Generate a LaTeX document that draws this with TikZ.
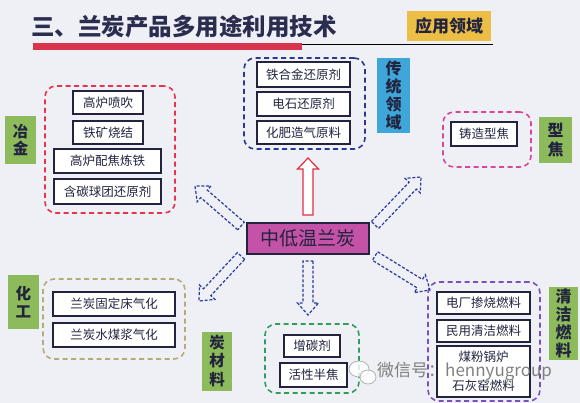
\documentclass[tikz,border=0pt]{standalone}
\usepackage{fontspec}
\setmainfont{Noto Sans CJK SC}
\usetikzlibrary{calc}
\definecolor{bg}{HTML}{EFF0F5}
\definecolor{txt}{HTML}{22243F}
\definecolor{ttl}{HTML}{2B2D4F}
\definecolor{redbar}{HTML}{D9344E}
\definecolor{thin}{HTML}{F0A090}
\definecolor{gold}{HTML}{EDBE45}
\definecolor{lgreen}{HTML}{8DBA5A}
\definecolor{lblue}{HTML}{3FA6DA}
\definecolor{ctr}{HTML}{C452A6}
\definecolor{gred}{HTML}{E5344E}
\definecolor{gblue}{HTML}{2B3990}
\definecolor{gpink}{HTML}{D9479A}
\definecolor{gtan}{HTML}{B5AA7A}
\definecolor{ggreen}{HTML}{2E9E5B}
\definecolor{gpurple}{HTML}{7B4FBF}
\definecolor{arblue}{HTML}{2B3A9C}
\definecolor{arred}{HTML}{E03040}
\newcommand\harrow[5]{% style, base, tip, headbase name, head length
  \coordinate (#4) at ($(#3)!#5!(#2)$);
  \draw[#1] ($(#2)!5pt!90:(#3)$) -- ($(#4)!5pt!90:(#3)$) -- ($(#4)!10.5pt!90:(#3)$)
    -- (#3) -- ($(#4)!10.5pt!-90:(#3)$) -- ($(#4)!5pt!-90:(#3)$) -- ($(#2)!5pt!-90:(#3)$) -- cycle;}
\tikzset{
  item/.style={draw=txt, line width=1.6pt, fill=white, text=txt, inner sep=0pt,
    font=\fontsize{12.5}{14}\selectfont},
  grp/.style={dash pattern=on 5pt off 3.5pt, line width=1.6pt, rounded corners=11pt, inner sep=0pt},
  side/.style={text=txt, inner sep=0pt, align=center, font=\fontsize{15.5}{17.5}\selectfont\bfseries},
  darr/.style={draw=arblue, line width=1.2pt, dash pattern=on 3pt off 1.8pt},
  rarr/.style={draw=arred, line width=1.2pt, fill=white},
}
\begin{document}
\begin{tikzpicture}[x=1pt,y=-1pt]
\fill[bg] (0,0) rectangle (580,403);
\useasboundingbox (0,0) rectangle (580,403);
% title
\node[anchor=west, inner sep=0pt, text=ttl, font=\fontsize{23.5}{26}\selectfont\bfseries] (title) at (31,27) {三、兰炭产品多用途利用技术};
\fill[redbar] (33,43) rectangle (302,50);
\draw[thin, line width=0.8pt] (302,44) -- (493,44);
\node[fill=gold, text=txt, inner sep=0pt, minimum width=84pt, minimum height=30pt, font=\fontsize{17}{19}\selectfont\bfseries] (field) at (449,26) {应用领域};

% groups
\node[grp, draw=gred, minimum width=130pt, minimum height=127pt] (g1) at (110,149.5) {};
\node[grp, draw=gblue, minimum width=121pt, minimum height=91pt] (g2) at (304.5,103.5) {};
\node[grp, draw=gpink, minimum width=88pt, minimum height=55pt] (g3) at (487,139.5) {};
\node[grp, draw=gtan, minimum width=142pt, minimum height=80pt] (g4) at (114,319) {};
\node[grp, draw=ggreen, minimum width=94pt, minimum height=69pt] (g5) at (312,358.5) {};
\node[grp, draw=gpurple, minimum width=112pt, minimum height=119pt] (g6) at (484,341.5) {};

% items
\node[item, minimum width=70pt, minimum height=23pt] (a1) at (108,102.5) {高炉喷吹};
\node[item, minimum width=70pt, minimum height=23pt] (a2) at (108,132.5) {铁矿烧结};
\node[item, minimum width=107pt, minimum height=24pt] (a3) at (107.5,161) {高炉配焦炼铁};
\node[item, minimum width=107pt, minimum height=25pt] (a4) at (107.5,191.5) {含碳球团还原剂};

\node[item, minimum width=93pt, minimum height=25pt] (b1) at (303.5,74.5) {铁合金还原剂};
\node[item, minimum width=93pt, minimum height=24pt] (b2) at (303.5,104) {电石还原剂};
\node[item, minimum width=93pt, minimum height=23pt] (b3) at (303.5,132.5) {化肥造气原料};

\node[item, minimum width=66pt, minimum height=24pt] (c1) at (484,134) {铸造型焦};

\node[item, minimum width=122pt, minimum height=24pt] (d1) at (114,304) {兰炭固定床气化};
\node[item, minimum width=122pt, minimum height=24pt] (d2) at (114,335) {兰炭水煤浆气化};

\node[item, minimum width=56pt, minimum height=22pt] (e1) at (312,346) {增碳剂};
\node[item, minimum width=67pt, minimum height=24pt] (e2) at (313.5,375) {活性半焦};

\node[item, minimum width=93pt, minimum height=22pt] (f1) at (483.5,303) {电厂掺烧燃料};
\node[item, minimum width=93pt, minimum height=22pt] (f2) at (483.5,331) {民用清洁燃料};
\node[item, minimum width=93pt, minimum height=51pt, align=center, font=\fontsize{12.5}{29}\selectfont] (f3) at (483.5,371.5) {煤粉锅炉\\石灰窑燃料};

% side labels
\node[side, fill=lgreen, minimum width=31pt, minimum height=48pt] (s1) at (20.5,140) {冶\\金};
\node[side, fill=lblue, minimum width=33pt, minimum height=75pt, font=\fontsize{16}{18}\selectfont\bfseries] (s2) at (393.5,95.5) {传\\统\\领\\域};
\node[side, fill=lgreen, minimum width=33pt, minimum height=46pt, font=\fontsize{16}{19}\selectfont\bfseries] (s3) at (555.5,140) {型\\焦};
\node[side, fill=lgreen, minimum width=31pt, minimum height=54pt] (s4) at (23.5,302) {化\\工};
\node[side, fill=lgreen, minimum width=30pt, minimum height=59pt, font=\fontsize{15.5}{18.5}\selectfont\bfseries] (s5) at (217,361) {炭\\材\\料};
\node[side, fill=lgreen, minimum width=29pt, minimum height=73pt, font=\fontsize{16}{18}\selectfont\bfseries] (s6) at (563.5,323.5) {清\\洁\\燃\\料};

% center
\node[draw=txt, line width=1.6pt, fill=ctr, text=txt, inner sep=0pt, minimum width=122pt, minimum height=31pt, font=\fontsize{19}{21}\selectfont] (m) at (308,238.5) {中低温兰炭};

% arrow end coordinates
\coordinate (rU0) at (308,215); \coordinate (rU1) at (308,158);
\coordinate (ul0) at (241,226); \coordinate (ul1) at (195,186);
\coordinate (ur0) at (375,225); \coordinate (ur1) at (421,177);
\coordinate (ll0) at (241,256); \coordinate (ll1) at (199,301);
\coordinate (lr0) at (375,256); \coordinate (lr1) at (430,290);
\coordinate (dn0) at (308,261); \coordinate (dn1) at (308,315);

\harrow{rarr}{rU0}{rU1}{rUh}{11pt}
\harrow{darr}{ul0}{ul1}{ulh}{12pt}
\harrow{darr}{ur0}{ur1}{urh}{12pt}
\harrow{darr}{ll0}{ll1}{llh}{12pt}
\harrow{darr}{lr0}{lr1}{lrh}{12pt}
\harrow{darr}{dn0}{dn1}{dnh}{12pt}

% watermark
\draw[gray!60, line width=0.8pt, fill=white, fill opacity=0.8] (359,369) ellipse [x radius=10pt, y radius=8pt];
\draw[gray!60, line width=0.8pt, fill=white, fill opacity=0.8] (368,377) ellipse [x radius=8pt, y radius=7pt];
\node[anchor=west, inner sep=0pt, text=gray!85!black, text opacity=0.85, font=\fontsize{17}{19}\selectfont] (wm) at (377,371) {微信号：hennyugroup};
\end{tikzpicture}
\end{document}
